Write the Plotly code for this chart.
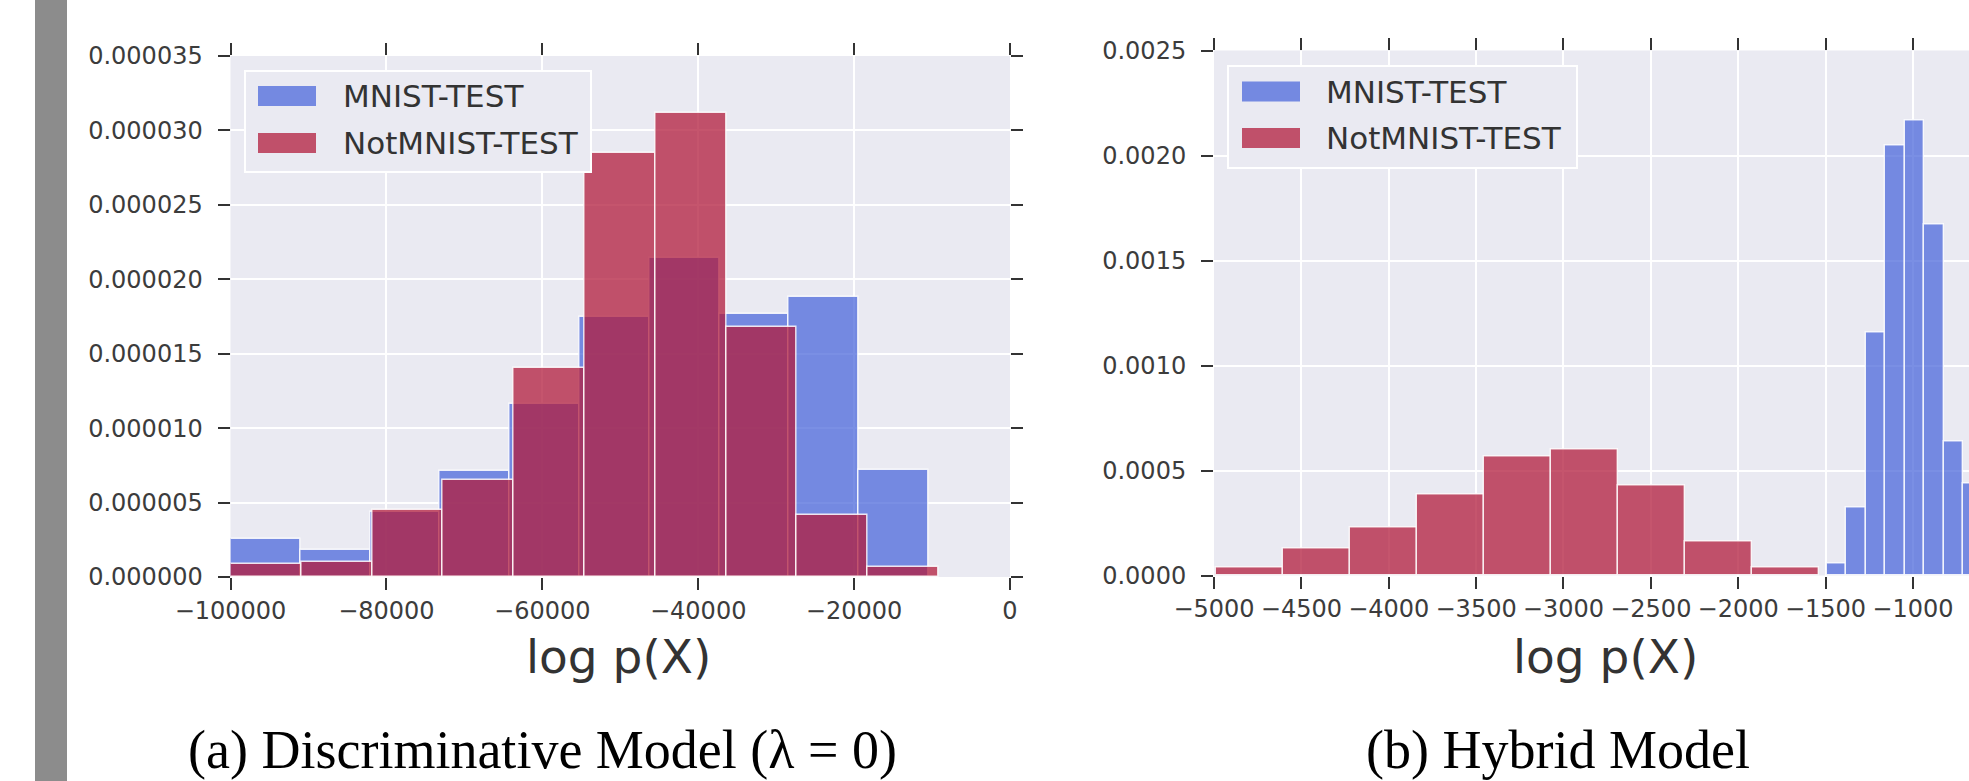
import plotly.graph_objects as go

W, H = 1969, 781

# ---------------- data ----------------
# (a) Discriminative model: histogram bin edges and densities
a_mnist_edges = [-100000, -91050, -82100, -73140, -64190, -55240, -46280, -37330, -28380, -19420, -10470]
a_mnist_density = [2.55e-6, 1.80e-6, 4.40e-6, 7.10e-6, 11.6e-6, 17.5e-6, 21.45e-6, 17.7e-6, 18.8e-6, 7.2e-6]
a_notmnist_edges = [-100000, -90920, -81840, -72760, -63680, -54600, -45510, -36430, -27350, -18270, -9190]
a_notmnist_density = [0.9e-6, 1.0e-6, 4.5e-6, 6.55e-6, 14.05e-6, 28.5e-6, 31.15e-6, 16.8e-6, 4.15e-6, 0.65e-6]

# (b) Hybrid model
b_notmnist_edges = [-4990, -4607, -4223, -3840, -3456, -3073, -2689, -2306, -1922, -1539]
b_notmnist_density = [0.000038, 0.000128, 0.000228, 0.000387, 0.000566, 0.000600, 0.000430, 0.000160, 0.000038]
b_mnist_edges = [-1493, -1381, -1269, -1157, -1046, -934, -823, -711, -599]
b_mnist_density = [0.000056, 0.000325, 0.001156, 0.002050, 0.002165, 0.001670, 0.000640, 0.000440]

a_xticks = [-100000, -80000, -60000, -40000, -20000, 0]
a_xlabels = ["\u2212100000", "\u221280000", "\u221260000", "\u221240000", "\u221220000", "0"]
a_yticks = [0, 5e-6, 10e-6, 15e-6, 20e-6, 25e-6, 30e-6, 35e-6]
a_ylabels = ["0.000000", "0.000005", "0.000010", "0.000015", "0.000020", "0.000025", "0.000030", "0.000035"]
b_xticks = [-5000, -4500, -4000, -3500, -3000, -2500, -2000, -1500, -1000, -500]
b_xlabels = ["\u22125000", "\u22124500", "\u22124000", "\u22123500", "\u22123000", "\u22122500",
             "\u22122000", "\u22121500", "\u22121000", "\u2212500"]
b_yticks = [0, 0.0005, 0.0010, 0.0015, 0.0020, 0.0025]
b_ylabels = ["0.0000", "0.0005", "0.0010", "0.0015", "0.0020", "0.0025"]

series_names = ["MNIST-TEST", "NotMNIST-TEST"]
x_title = "log p(X)"
subtitles = ["(a) Discriminative Model (\u03bb = 0)", "(b) Hybrid Model"]

# ---------------- styling ----------------
BLUE = "rgba(70,100,218,0.72)"
RED = "rgba(178,28,60,0.75)"
EDGE = "rgba(255,255,255,0.85)"
BG = "#eaeaf2"


def px_x(p):
    return p / W


def px_y(p):
    return 1 - p / H


def hist_trace(edges, dens, color, name, xa, ya):
    centers = [(edges[i] + edges[i + 1]) / 2 for i in range(len(dens))]
    widths = [edges[i + 1] - edges[i] for i in range(len(dens))]
    return go.Bar(x=centers, y=dens, width=widths, name=name, xaxis=xa, yaxis=ya,
                  marker=dict(color=color, line=dict(color=EDGE, width=1.4)),
                  showlegend=False, hoverinfo="x+y")


fig = go.Figure()
fig.add_trace(hist_trace(a_mnist_edges, a_mnist_density, BLUE, series_names[0], "x", "y"))
fig.add_trace(hist_trace(a_notmnist_edges, a_notmnist_density, RED, series_names[1], "x", "y"))
fig.add_trace(hist_trace(b_mnist_edges, b_mnist_density, BLUE, series_names[0], "x2", "y2"))
fig.add_trace(hist_trace(b_notmnist_edges, b_notmnist_density, RED, series_names[1], "x2", "y2"))

tickfont = dict(family="DejaVu Sans", size=24, color="#3c3c3c")
common = dict(showgrid=True, gridcolor="white", gridwidth=1.6, zeroline=False,
              ticks="outside", ticklen=12, tickwidth=1.6, tickcolor="#333333",
              tickfont=tickfont, showline=True, linecolor="rgba(0,0,0,0)", linewidth=1,
              tickmode="array", fixedrange=True, automargin=False)

fig.update_layout(
    width=W, height=H, autosize=False,
    margin=dict(l=0, r=0, t=0, b=0, pad=0, autoexpand=False),
    paper_bgcolor="white", plot_bgcolor=BG,
    barmode="overlay", bargap=0,
    xaxis=dict(common, domain=[px_x(230.5), px_x(1010)], range=[-100000, 0], anchor="y",
               tickvals=a_xticks, ticktext=a_xlabels, mirror="ticks"),
    yaxis=dict(common, domain=[px_y(577), px_y(56)], range=[0, 3.5e-5], anchor="x",
               tickvals=a_yticks, ticktext=a_ylabels, mirror="ticks", ticklabelstandoff=10),
    xaxis2=dict(common, domain=[px_x(1214), 1.0], range=[-5000, -679], anchor="y2",
                tickvals=b_xticks, ticktext=b_xlabels, mirror="ticks"),
    yaxis2=dict(common, domain=[px_y(575.5), px_y(50.5)], range=[0, 0.0025], anchor="x2",
                tickvals=b_yticks, ticktext=b_ylabels, mirror=False, ticklabelstandoff=10),
)

shapes = []
# grey page margin strip on the left
shapes.append(dict(type="rect", xref="paper", yref="paper", x0=px_x(35), x1=px_x(67), y0=0, y1=1,
                   fillcolor="#8c8c8c", line=dict(width=0), layer="above"))

annotations = []
legend_font = dict(family="DejaVu Sans", size=31, color="#333333")


def add_legend(box, patch_x, rows, text_x):
    x0, x1, y0, y1 = box
    shapes.append(dict(type="rect", xref="paper", yref="paper",
                       x0=px_x(x0), x1=px_x(x1), y0=px_y(y1), y1=px_y(y0),
                       fillcolor=BG, line=dict(color="white", width=2), layer="above"))
    for (yc, color, name) in rows:
        shapes.append(dict(type="rect", xref="paper", yref="paper",
                           x0=px_x(patch_x[0]), x1=px_x(patch_x[1]),
                           y0=px_y(yc + 10), y1=px_y(yc - 10),
                           fillcolor=color, line=dict(width=0), layer="above"))
        annotations.append(dict(text=name, xref="paper", yref="paper", x=px_x(text_x), y=px_y(yc),
                                xanchor="left", yanchor="middle", showarrow=False, font=legend_font))


add_legend((245, 591, 71, 172), (258, 316), [(96, BLUE, series_names[0]), (143, RED, series_names[1])], 341)
add_legend((1228, 1577, 66, 168), (1242, 1300), [(91.5, BLUE, series_names[0]), (138, RED, series_names[1])], 1324)

title_font = dict(family="DejaVu Sans", size=47, color="#333333")
annotations.append(dict(text=x_title, xref="paper", yref="paper", x=px_x(618), y=px_y(656),
                        xanchor="center", yanchor="middle", showarrow=False, font=title_font))
annotations.append(dict(text=x_title, xref="paper", yref="paper", x=px_x(1605), y=px_y(656),
                        xanchor="center", yanchor="middle", showarrow=False, font=title_font))

sub_font = dict(family="Liberation Serif", size=54, color="black")
annotations.append(dict(text=subtitles[0], xref="paper", yref="paper", x=px_x(542), y=px_y(750),
                        xanchor="center", yanchor="middle", showarrow=False, font=sub_font))
annotations.append(dict(text=subtitles[1], xref="paper", yref="paper", x=px_x(1558), y=px_y(750),
                        xanchor="center", yanchor="middle", showarrow=False, font=sub_font))

fig.update_layout(shapes=shapes, annotations=annotations)

fig.write_html("out.html")
